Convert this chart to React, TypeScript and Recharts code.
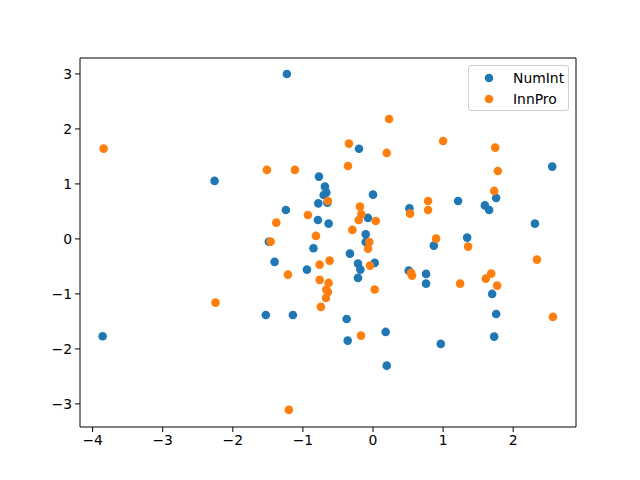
import { ScatterChart, Scatter, XAxis, YAxis } from 'recharts'

const numIntX = [
  -3.857, -2.26, -1.229, -0.2, -0.771, -0.686, -0.666, -0.704, -0.65, -0.78,
  -1.243, -0.786, -0.633, 0.0, -0.071, -0.104, -0.104, -0.85, -1.486, 0.52,
  1.214, 1.596, 1.657, 1.757, 2.557, 2.31, 1.343, 0.867, -1.404, -0.943,
  -0.329, -0.214, -0.18, -0.214, 0.024, -1.529, -1.143, -0.376, -0.361, 0.181,
  0.196, 0.51, 0.757, 0.757, 0.967, 1.7, 1.757, 1.729,
]
const numIntY = [
  -1.77, 1.055, 3.0, 1.64, 1.133, 0.951, 0.842, 0.8, 0.66, 0.647,
  0.527, 0.345, 0.278, 0.805, 0.382, 0.084, -0.055, -0.17, -0.05, 0.556,
  0.69, 0.61, 0.527, 0.745, 1.315, 0.278, 0.024, -0.122, -0.418, -0.558,
  -0.267, -0.449, -0.558, -0.709, -0.436, -1.382, -1.382, -1.455, -1.849, -1.691,
  -2.304, -0.576, -0.636, -0.813, -1.909, -1.0, -1.364, -1.776,
]

const innProX = [
  -3.843, -2.247, 0.229, -0.343, 0.196, -0.357, -1.514, -1.114, -0.643, -0.929,
  -1.38, -0.814, -1.461, -0.186, -0.166, -0.204, 0.039, -0.294, -0.052, -0.071,
  -0.043, -1.214, -0.761, -0.619, -0.761, -0.633, -0.666, -0.643, -0.671, -0.743,
  0.024, -0.171, -1.2, 0.9, 1.357, 0.543, 0.557, 1.243, 1.686, 1.61,
  1.771, 2.339, 2.567, 1.0, 1.743, 1.781, 1.729, 0.786, 0.786, 0.529,
]
const innProY = [
  1.642, -1.158, 2.18, 1.733, 1.564, 1.327, 1.255, 1.255, 0.69, 0.436,
  0.296, 0.055, -0.049, 0.587, 0.447, 0.345, 0.327, 0.164, -0.055, -0.176,
  -0.485, -0.649, -0.467, -0.395, -0.745, -0.8, -0.921, -0.964, -1.073, -1.236,
  -0.921, -1.758, -3.109, 0.005, -0.14, -0.618, -0.667, -0.813, -0.631, -0.722,
  -0.849, -0.376, -1.418, 1.782, 1.66, 1.236, 0.873, 0.69, 0.527, 0.46,
]

const xTicks = [-4, -3, -2, -1, 0, 1, 2]
const yTicks = [-3, -2, -1, 0, 1, 2, 3]
const xDomain = [-4.18, 2.896]
const yDomain = [-3.42, 3.29]

const BLUE = '#1f77b4'
const ORANGE = '#ff7f0e'
const FONT = '"DejaVu Sans", sans-serif'

const numInt = numIntX.map((x, i) => ({ x, y: numIntY[i] }))
const innPro = innProX.map((x, i) => ({ x, y: innProY[i] }))

const dot = (color: string) => (props: any) => (
  <circle cx={props.cx} cy={props.cy} r={4.3} fill={color} />
)

const fmt = (v: number) => (v < 0 ? `\u2212${Math.abs(v)}` : `${v}`)

const tickStyle = { fontSize: 13.9, fill: '#000', fontFamily: FONT }

const legendItems = [
  { name: 'NumInt', color: BLUE },
  { name: 'InnPro', color: ORANGE },
]

const LegendBox = () => (
  <div
    style={{
      position: 'absolute',
      left: 468,
      top: 65,
      width: 99,
      height: 44,
      border: '1px solid #d0d0d0',
      borderRadius: 3,
      background: 'rgba(255,255,255,0.8)',
      fontFamily: FONT,
      fontSize: 13.9,
      color: '#000',
    }}
  >
    {legendItems.map((e, i) => (
      <div key={e.name} style={{ position: 'absolute', left: 0, top: 2 + i * 21, height: 20, width: 99 }}>
        <svg width={20} height={20} style={{ position: 'absolute', left: 10, top: 0 }}>
          <circle cx={10} cy={10} r={4.3} fill={e.color} />
        </svg>
        <span style={{ position: 'absolute', left: 44, top: 0, lineHeight: '20px' }}>{e.name}</span>
      </div>
    ))}
  </div>
)

export default function App() {
  return (
    <div style={{ position: 'absolute', left: 0, top: 0, width: 640, height: 480, background: '#fff' }}>
      <ScatterChart width={640} height={480} margin={{ top: 57, right: 63, bottom: 0, left: 0 }}>
        <XAxis
          xAxisId="main"
          type="number"
          dataKey="x"
          domain={xDomain}
          ticks={xTicks}
          tickFormatter={fmt}
          allowDataOverflow
          height={53}
          stroke="#000"
          tickSize={5}
          tickMargin={3}
          tick={tickStyle}
        />
        <XAxis
          xAxisId="top"
          orientation="top"
          type="number"
          dataKey="x"
          domain={xDomain}
          allowDataOverflow
          height={1}
          stroke="#000"
          tick={false}
          tickLine={false}
        />
        <YAxis
          yAxisId="main"
          type="number"
          dataKey="y"
          domain={yDomain}
          ticks={yTicks}
          tickFormatter={fmt}
          allowDataOverflow
          width={80}
          stroke="#000"
          tickSize={5}
          tickMargin={3}
          tick={tickStyle}
        />
        <YAxis
          yAxisId="right"
          orientation="right"
          type="number"
          dataKey="y"
          domain={yDomain}
          allowDataOverflow
          width={1}
          stroke="#000"
          tick={false}
          tickLine={false}
        />
        <Scatter
          name="NumInt"
          data={numInt}
          xAxisId="main"
          yAxisId="main"
          fill={BLUE}
          shape={dot(BLUE)}
          isAnimationActive={false}
        />
        <Scatter
          name="InnPro"
          data={innPro}
          xAxisId="main"
          yAxisId="main"
          fill={ORANGE}
          shape={dot(ORANGE)}
          isAnimationActive={false}
        />
      </ScatterChart>
      <LegendBox />
    </div>
  )
}
